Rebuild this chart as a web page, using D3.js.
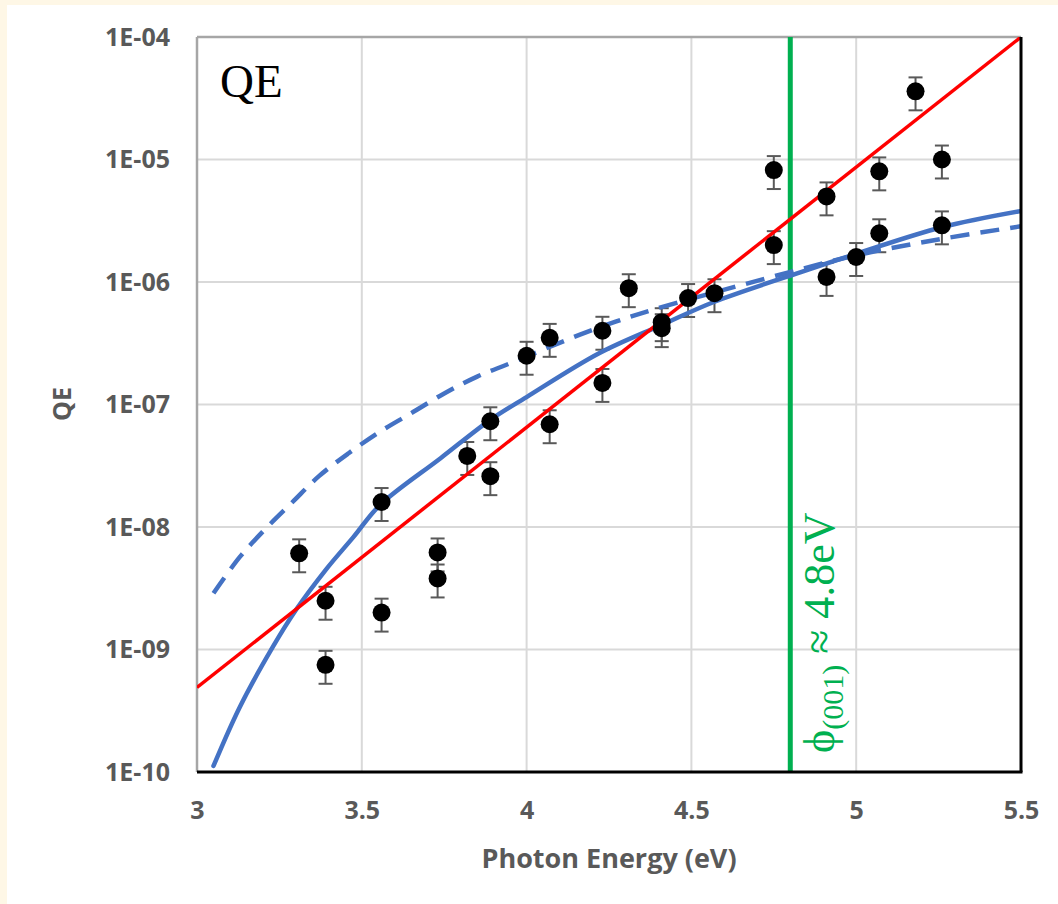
<!DOCTYPE html>
<html>
<head>
<meta charset="utf-8">
<script src="https://cdn.jsdelivr.net/npm/d3@7"></script>
<style>
  html, body { margin: 0; padding: 0; background: #fef7e6; }
  svg { display: block; }
</style>
</head>
<body>
<svg id="chart" width="1058" height="904"></svg>
<script>
// ---- Data ----
const xTicks = [3, 3.5, 4, 4.5, 5, 5.5];
const xTickLabels = ["3", "3.5", "4", "4.5", "5", "5.5"];
const yTicks = [1e-10, 1e-9, 1e-8, 1e-7, 1e-6, 1e-5, 1e-4];
const yTickLabels = ["1E-10", "1E-09", "1E-08", "1E-07", "1E-06", "1E-05", "1E-04"];

// measured QE points (photon energy, QE)
const pointX = [3.31, 3.39, 3.39, 3.56, 3.56, 3.73, 3.73, 3.82, 3.89, 3.89,
                4.00, 4.07, 4.07, 4.23, 4.23, 4.31, 4.41, 4.41, 4.49, 4.57,
                4.75, 4.75, 4.91, 4.91, 5.00, 5.07, 5.07, 5.18, 5.26, 5.26];
const pointY = [6.1e-9, 2.5e-9, 7.5e-10, 1.6e-8, 2.0e-9, 6.2e-9, 3.8e-9, 3.8e-8, 7.3e-8, 2.6e-8,
                2.5e-7, 3.5e-7, 6.9e-8, 4.0e-7, 1.5e-7, 8.9e-7, 4.7e-7, 4.2e-7, 7.4e-7, 8.1e-7,
                8.2e-6, 2.0e-6, 5.0e-6, 1.1e-6, 1.6e-6, 8.0e-6, 2.5e-6, 3.6e-5, 1.0e-5, 2.9e-6];
const errFrac = 0.3; // relative error bar

// exponential fit (red)
const fitX = [3.0, 5.5];
const fitY = [4.9e-10, 1.0e-4];

// model curve (solid blue)
const modelX = [3.05, 3.13, 3.23, 3.30, 3.39, 3.475, 3.555, 3.74, 3.89, 4.00, 4.22, 4.41, 4.57, 4.83, 5.00, 5.26, 5.50];
const modelY = [1.12e-10, 3.4e-10, 1.05e-9, 2.1e-9, 4.45e-9, 8.3e-9, 1.51e-8, 3.66e-8, 7.5e-8, 1.15e-7, 2.62e-7, 4.46e-7, 6.9e-7, 1.2e-6, 1.7e-6, 2.8e-6, 3.8e-6];

// model curve (dashed blue)
const model2X = [3.05, 3.13, 3.21, 3.29, 3.37, 3.46, 3.555, 3.65, 3.75, 3.85, 3.95, 4.16, 4.27, 4.38, 4.71, 5.00, 5.26, 5.50];
const model2Y = [2.88e-9, 5.7e-9, 9.8e-9, 1.6e-8, 2.6e-8, 4.0e-8, 6.0e-8, 8.5e-8, 1.23e-7, 1.69e-7, 2.17e-7, 3.7e-7, 4.74e-7, 5.9e-7, 1.04e-6, 1.65e-6, 2.25e-6, 2.85e-6];

const workFunction = 4.8;

// ---- Layout ----
const svg = d3.select("#chart");
const W = 1058, H = 904;
const L = 197, R = 1021, T = 37, B = 772;

svg.append("rect").attr("x", 7).attr("y", 5).attr("width", W - 7).attr("height", H - 5).attr("fill", "#ffffff");

const x = d3.scaleLinear().domain([3, 5.5]).range([L, R]);
const y = d3.scaleLog().domain([1e-10, 1e-4]).range([B, T]);

const tickColor = "#595959";
const tickFont = "'Open Sans', 'DejaVu Sans', sans-serif";

// gridlines
const g = svg.append("g");
g.selectAll(".vg").data(xTicks.slice(1, -1)).enter().append("line")
  .attr("x1", d => x(d)).attr("x2", d => x(d)).attr("y1", T).attr("y2", B)
  .attr("stroke", "#d9d9d9").attr("stroke-width", 2);
g.selectAll(".hg").data(yTicks.slice(1, -1)).enter().append("line")
  .attr("x1", L).attr("x2", R).attr("y1", d => y(d)).attr("y2", d => y(d))
  .attr("stroke", "#d9d9d9").attr("stroke-width", 2);

// axes (labels only) via d3 axes
const xAxis = d3.axisBottom(x).tickValues(xTicks).tickFormat((d, i) => xTickLabels[i]).tickSize(0).tickPadding(29);
const xa = svg.append("g").attr("transform", `translate(0,${B})`).call(xAxis);
xa.select(".domain").remove();
xa.selectAll("text").attr("font-family", tickFont).attr("font-weight", "bold").attr("font-size", 25).attr("fill", tickColor);

const yAxis = d3.axisLeft(y).tickValues(yTicks).tickFormat((d, i) => yTickLabels[i]).tickSize(0).tickPadding(27);
const ya = svg.append("g").attr("transform", `translate(${L},0)`).call(yAxis);
ya.select(".domain").remove();
ya.selectAll("text").attr("font-family", tickFont).attr("font-weight", "bold").attr("font-size", 25).attr("fill", tickColor);

// frame: top/left gray, bottom/right black
svg.append("line").attr("x1", L).attr("x2", R).attr("y1", T).attr("y2", T).attr("stroke", "#a6a6a6").attr("stroke-width", 2.5);
svg.append("line").attr("x1", L).attr("x2", L).attr("y1", T).attr("y2", B).attr("stroke", "#a6a6a6").attr("stroke-width", 2.5);

// clip
svg.append("clipPath").attr("id", "clip").append("rect").attr("x", L).attr("y", T).attr("width", R - L).attr("height", B - T);
const plot = svg.append("g").attr("clip-path", "url(#clip)");

// green work-function line
plot.append("line").attr("x1", x(workFunction)).attr("x2", x(workFunction)).attr("y1", T).attr("y2", B)
  .attr("stroke", "#00b050").attr("stroke-width", 5);

// error bars
const pts = pointX.map((v, i) => ({ x: v, y: pointY[i] }));
const eb = plot.append("g").attr("stroke", "#595959").attr("stroke-width", 2);
pts.forEach(p => {
  const lo = p.y * (1 - errFrac), hi = p.y * (1 + errFrac);
  eb.append("line").attr("x1", x(p.x)).attr("x2", x(p.x)).attr("y1", y(lo)).attr("y2", y(hi));
  eb.append("line").attr("x1", x(p.x) - 7).attr("x2", x(p.x) + 7).attr("y1", y(lo)).attr("y2", y(lo));
  eb.append("line").attr("x1", x(p.x) - 7).attr("x2", x(p.x) + 7).attr("y1", y(hi)).attr("y2", y(hi));
});

// lines
const line = d3.line().x(d => x(d[0])).y(d => y(d[1])).curve(d3.curveCatmullRom.alpha(0.5));
plot.append("path").datum(model2X.map((v, i) => [v, model2Y[i]]))
  .attr("d", line).attr("fill", "none").attr("stroke", "#4472c4").attr("stroke-width", 4.5)
  .attr("stroke-dasharray", "19,11");
plot.append("path").datum(modelX.map((v, i) => [v, modelY[i]]))
  .attr("d", line).attr("fill", "none").attr("stroke", "#4472c4").attr("stroke-width", 4.5)
  .attr("stroke-linecap", "round");
plot.append("path").datum(fitX.map((v, i) => [v, fitY[i]]))
  .attr("d", d3.line().x(d => x(d[0])).y(d => y(d[1]))).attr("fill", "none").attr("stroke", "#ff0000").attr("stroke-width", 3.5);

// points
plot.selectAll(".pt").data(pts).enter().append("circle")
  .attr("cx", d => x(d.x)).attr("cy", d => y(d.y)).attr("r", 9).attr("fill", "#000");

// bottom/right frame
svg.append("line").attr("x1", L).attr("x2", R + 1.5).attr("y1", B).attr("y2", B).attr("stroke", "#000").attr("stroke-width", 3);
svg.append("line").attr("x1", R).attr("x2", R).attr("y1", T).attr("y2", B).attr("stroke", "#000").attr("stroke-width", 3);

// QE label in plot
svg.append("text").attr("x", 220).attr("y", 97).attr("font-family", "'Liberation Serif', 'Times New Roman', serif")
  .attr("font-size", 47).attr("fill", "#000").text("QE");

// work function label
const wf = svg.append("text").attr("transform", `translate(834,753) rotate(-90)`)
  .attr("font-family", "'Liberation Serif', 'Times New Roman', serif").attr("fill", "#00b050").attr("font-size", 44);
wf.append("tspan").text("ϕ");
wf.append("tspan").attr("font-size", 30).attr("dy", 9).text("(001)");
wf.append("tspan").attr("dy", -9).text(" ≈ 4.8eV");

// axis titles
svg.append("text").attr("x", (L + R) / 2).attr("y", 868).attr("text-anchor", "middle")
  .attr("font-family", tickFont).attr("font-weight", "bold").attr("font-size", 27).attr("fill", tickColor)
  .text("Photon Energy (eV)");
svg.append("text").attr("transform", `translate(71,404) rotate(-90)`).attr("text-anchor", "middle")
  .attr("font-family", tickFont).attr("font-weight", "bold").attr("font-size", 25).attr("fill", tickColor)
  .text("QE");
</script>
</body>
</html>
